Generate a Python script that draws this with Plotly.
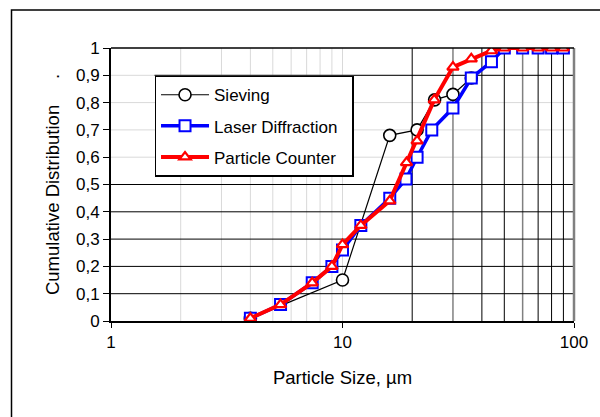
import plotly.graph_objects as go
import math

# ---- data ----
sieve_x = [4, 10, 16, 21, 25, 30, 36]
sieve_y = [0.01, 0.15, 0.68, 0.70, 0.81, 0.83, 0.89]

laser_x = [4, 5.4, 7.4, 9, 10, 12, 16, 18.8, 21, 24.3, 30, 36, 44, 50, 60, 70, 80, 90]
laser_y = [0.01, 0.06, 0.14, 0.20, 0.26, 0.35, 0.45, 0.52, 0.60, 0.70, 0.78, 0.89, 0.95, 1, 1, 1, 1, 1]

counter_x = [4, 5.4, 7.4, 9, 10, 12, 16, 18.9, 21, 24.9, 30, 36, 44, 50, 60, 70, 80, 90]
counter_y = [0.01, 0.06, 0.14, 0.20, 0.28, 0.35, 0.44, 0.58, 0.66, 0.81, 0.93, 0.96, 0.99, 1, 1, 1, 1, 1]

y_ticks = [0, 0.1, 0.2, 0.3, 0.4, 0.5, 0.6, 0.7, 0.8, 0.9, 1]
x_ticks = [1, 10, 100]
light_vgrid = [2, 3, 4, 5, 6, 7, 8, 9, 10]
dark_vgrid = [20, 40, 50, 70, 80, 90]
gray_vgrid = [30, 60]
dark_hgrid = [0.1, 0.2, 0.3, 0.4, 0.5]
light_hgrid = [0.6, 0.7, 0.8]

FONT = "Liberation Sans, Arial, sans-serif"

fig = go.Figure()
fig.add_trace(go.Scatter(
    x=sieve_x, y=sieve_y, name="Sieving", mode="lines+markers",
    line=dict(color="black", width=1.2),
    marker=dict(symbol="circle", size=12, color="white", line=dict(color="black", width=1.6)),
    legendgroup="a"))
fig.add_trace(go.Scatter(
    x=laser_x, y=laser_y, name="Laser Diffraction\u00a0\u00a0", mode="lines+markers",
    line=dict(color="#0000FF", width=3.5),
    marker=dict(symbol="square", size=11, color="white", line=dict(color="#0000FF", width=2)),
    legendgroup="b"))
fig.add_trace(go.Scatter(
    x=counter_x, y=counter_y, name="Particle Counter", mode="lines+markers",
    line=dict(color="#FF0000", width=4),
    marker=dict(symbol="triangle-up", size=10, color="white", line=dict(color="#FF0000", width=2.2)),
    legendgroup="c"))

def vline(v, color, width):
    f = math.log10(v) / 2
    return dict(type="line", xref="x domain", yref="y domain", x0=f, x1=f, y0=0, y1=1,
                line=dict(color=color, width=width), layer="below")

def hline(v, color, width, x0=0.0):
    return dict(type="line", xref="x domain", yref="y", x0=x0, x1=1, y0=v, y1=v,
                line=dict(color=color, width=width), layer="below")

shapes = []
for v in light_vgrid:
    shapes.append(vline(v, "#d9d9d9", 1))
for v in light_hgrid:
    shapes.append(hline(v, "#d9d9d9", 1))
shapes.append(hline(0.9, "#d9d9d9", 1))
for v in dark_vgrid:
    shapes.append(vline(v, "black", 1))
for v in gray_vgrid:
    shapes.append(vline(v, "#808080", 1.5))
for v in dark_hgrid:
    shapes.append(hline(v, "black", 1))
shapes.append(hline(0.9, "black", 1, x0=0.094))
# right border (gray) and top border
shapes.append(dict(type="line", xref="x domain", yref="y domain", x0=1, x1=1, y0=0, y1=1,
                   line=dict(color="#808080", width=2.5), layer="above"))
shapes.append(dict(type="line", xref="x domain", yref="y domain", x0=0, x1=1, y0=1, y1=1,
                   line=dict(color="black", width=1.5), layer="above"))
# outer chart frame
shapes.append(dict(type="rect", xref="paper", yref="paper", x0=-0.2149, x1=1.07, y0=-0.40, y1=1.1392,
                   line=dict(color="black", width=1.5), fillcolor="rgba(0,0,0,0)"))

fig.update_layout(
    width=600, height=417,
    margin=dict(l=111, r=19, t=48, b=96),
    paper_bgcolor="white", plot_bgcolor="white",
    separators=", ",
    font=dict(family=FONT, size=17, color="black"),
    shapes=shapes,
    showlegend=True,
    legend=dict(x=0.094, y=0.8985, xanchor="left", yanchor="top",
                bgcolor="white", bordercolor="black", borderwidth=1.5,
                font=dict(family=FONT, size=17), traceorder="grouped", tracegroupgap=6,
                itemwidth=48),
)

fig.update_xaxes(
    type="log", range=[0, 2],
    tickvals=x_ticks, ticktext=["1", "10", "100"],
    ticks="outside", ticklen=5, tickcolor="black", tickwidth=1,
    showline=True, linecolor="black", linewidth=2, mirror=False,
    showgrid=False, zeroline=False,
    title=dict(text="Particle Size, µm", font=dict(size=18.5), standoff=20),
)
fig.update_yaxes(
    range=[0, 1], tickvals=y_ticks,
    ticks="outside", ticklen=6, tickcolor="black", tickwidth=1,
    showline=True, linecolor="black", linewidth=2, mirror=False,
    showgrid=False, zeroline=False,
    title=dict(text="Cumulative Distribution" + "\u00a0" * 5 + ".",
               font=dict(size=18.5), standoff=11),
)

fig.write_html("out.html", config={"displayModeBar": False},
               post_script="document.body.style.margin='0';")
